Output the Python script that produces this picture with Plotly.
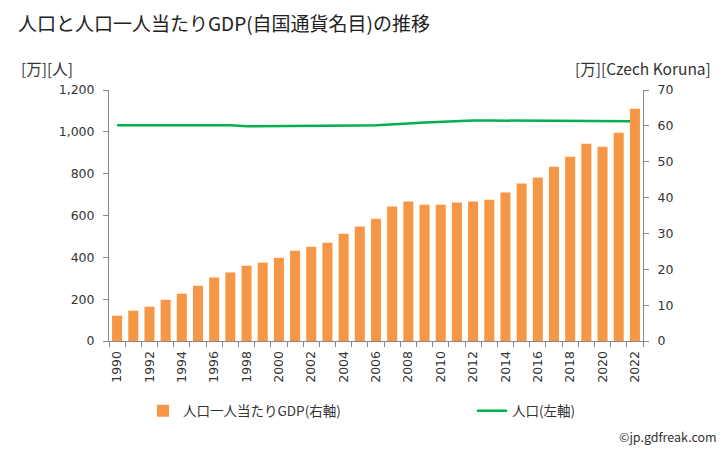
import plotly.graph_objects as go

years = list(range(1990, 2023))
gdp_per_capita = [7.06, 8.46, 9.57, 11.5, 13.2, 15.4, 17.7, 19.1, 21.0, 21.85,
                  23.2, 25.2, 26.3, 27.4, 29.9, 31.9, 34.1, 37.5, 38.9, 38.0,
                  38.0, 38.6, 38.9, 39.4, 41.4, 43.9, 45.6, 48.6, 51.4, 55.0,
                  54.2, 58.1, 64.8]
population = [1032, 1032, 1032, 1032, 1034, 1032, 1032, 1032, 1027, 1027,
              1027, 1027, 1027, 1027, 1027, 1030, 1032, 1035, 1040, 1045,
              1049, 1052, 1054, 1054, 1054, 1054, 1054, 1054, 1054, 1054,
              1054, 1054, 1051]
tick_years = list(range(1990, 2023, 2))

JP = "Noto Sans CJK JP"
NUM = "DejaVu Sans"
axis_col = "#888888"
txt_col = "#333333"

# page body has an 8px margin; plot area in page pixels: x 109..643, y 90..341
PX0, PX1, PY0, PY1 = 109, 643, 90, 341
pw, ph = PX1 - PX0, PY1 - PY0


def px(x):
    return (x - PX0) / pw


def py(y):
    return (PY1 - y) / ph


fig = go.Figure()
fig.add_trace(go.Bar(x=years, y=gdp_per_capita, name="人口一人当たりGDP(右軸)",
                     marker=dict(color="#F79646", line=dict(width=0)), yaxis="y2",
                     legend="legend"))
fig.add_trace(go.Scatter(x=years, y=population, name="人口(左軸)", mode="lines",
                         line=dict(color="#00B050", width=2.5), yaxis="y",
                         legend="legend2"))

legend_common = dict(orientation="h", xanchor="left", yanchor="middle",
                     font=dict(family=JP, size=13.5, color=txt_col),
                     bgcolor="rgba(0,0,0,0)")

tickfont = dict(family=NUM, size=12.5, color=txt_col)

fig.update_layout(
    width=720, height=442,
    margin=dict(l=101, r=85, t=82, b=109),
    paper_bgcolor="white", plot_bgcolor="white",
    bargap=0.38,
    showlegend=True,
    legend=dict(x=px(143), y=py(411), **legend_common),
    legend2=dict(x=px(472), y=py(411), **legend_common),
    xaxis=dict(range=[1989.5, 2022.5], tickmode="array", tickvals=tick_years,
               ticktext=[str(y) for y in tick_years], tickangle=-90,
               ticks="", showline=True, linecolor=axis_col, linewidth=1,
               showgrid=False, zeroline=False, ticklabelstandoff=4,
               tickfont=tickfont,
               minor=dict(ticks="outside", tickmode="linear", tick0=1989.5, dtick=1,
                          ticklen=5, tickcolor=axis_col, showgrid=False)),
    yaxis=dict(range=[0, 1200], tickvals=[0, 200, 400, 600, 800, 1000, 1200],
               ticktext=["0", "200", "400", "600", "800", "1,000", "1,200"],
               ticks="outside", ticklen=5, tickcolor=axis_col, showline=True,
               linecolor=axis_col, showgrid=False, zeroline=False,
               ticklabelstandoff=6, tickfont=tickfont),
    yaxis2=dict(range=[0, 70], tickvals=[0, 10, 20, 30, 40, 50, 60, 70],
                overlaying="y", side="right",
                ticks="outside", ticklen=5, tickcolor=axis_col, showline=True,
                linecolor=axis_col, showgrid=False, zeroline=False,
                ticklabelstandoff=6, tickfont=tickfont),
    annotations=[
        dict(text="人口と人口一人当たりGDP(自国通貨名目)の推移", x=px(16), y=py(22),
             xref="paper", yref="paper", showarrow=False, xanchor="left", yanchor="middle",
             font=dict(family=JP, size=19, color="#222222")),
        dict(text="[万][人]", x=px(19), y=py(68), xref="paper", yref="paper",
             showarrow=False, xanchor="left", yanchor="middle",
             font=dict(family=JP, size=15.5, color=txt_col)),
        dict(text="[万][Czech Koruna]", x=px(713), y=py(68), xref="paper", yref="paper",
             showarrow=False, xanchor="right", yanchor="middle",
             font=dict(family=JP, size=15.5, color=txt_col)),
        dict(text="©jp.gdfreak.com", x=px(719), y=py(436), xref="paper", yref="paper",
             showarrow=False, xanchor="right", yanchor="middle",
             font=dict(family=JP, size=12.5, color=txt_col)),
    ],
)

fig.write_html("out.html")
